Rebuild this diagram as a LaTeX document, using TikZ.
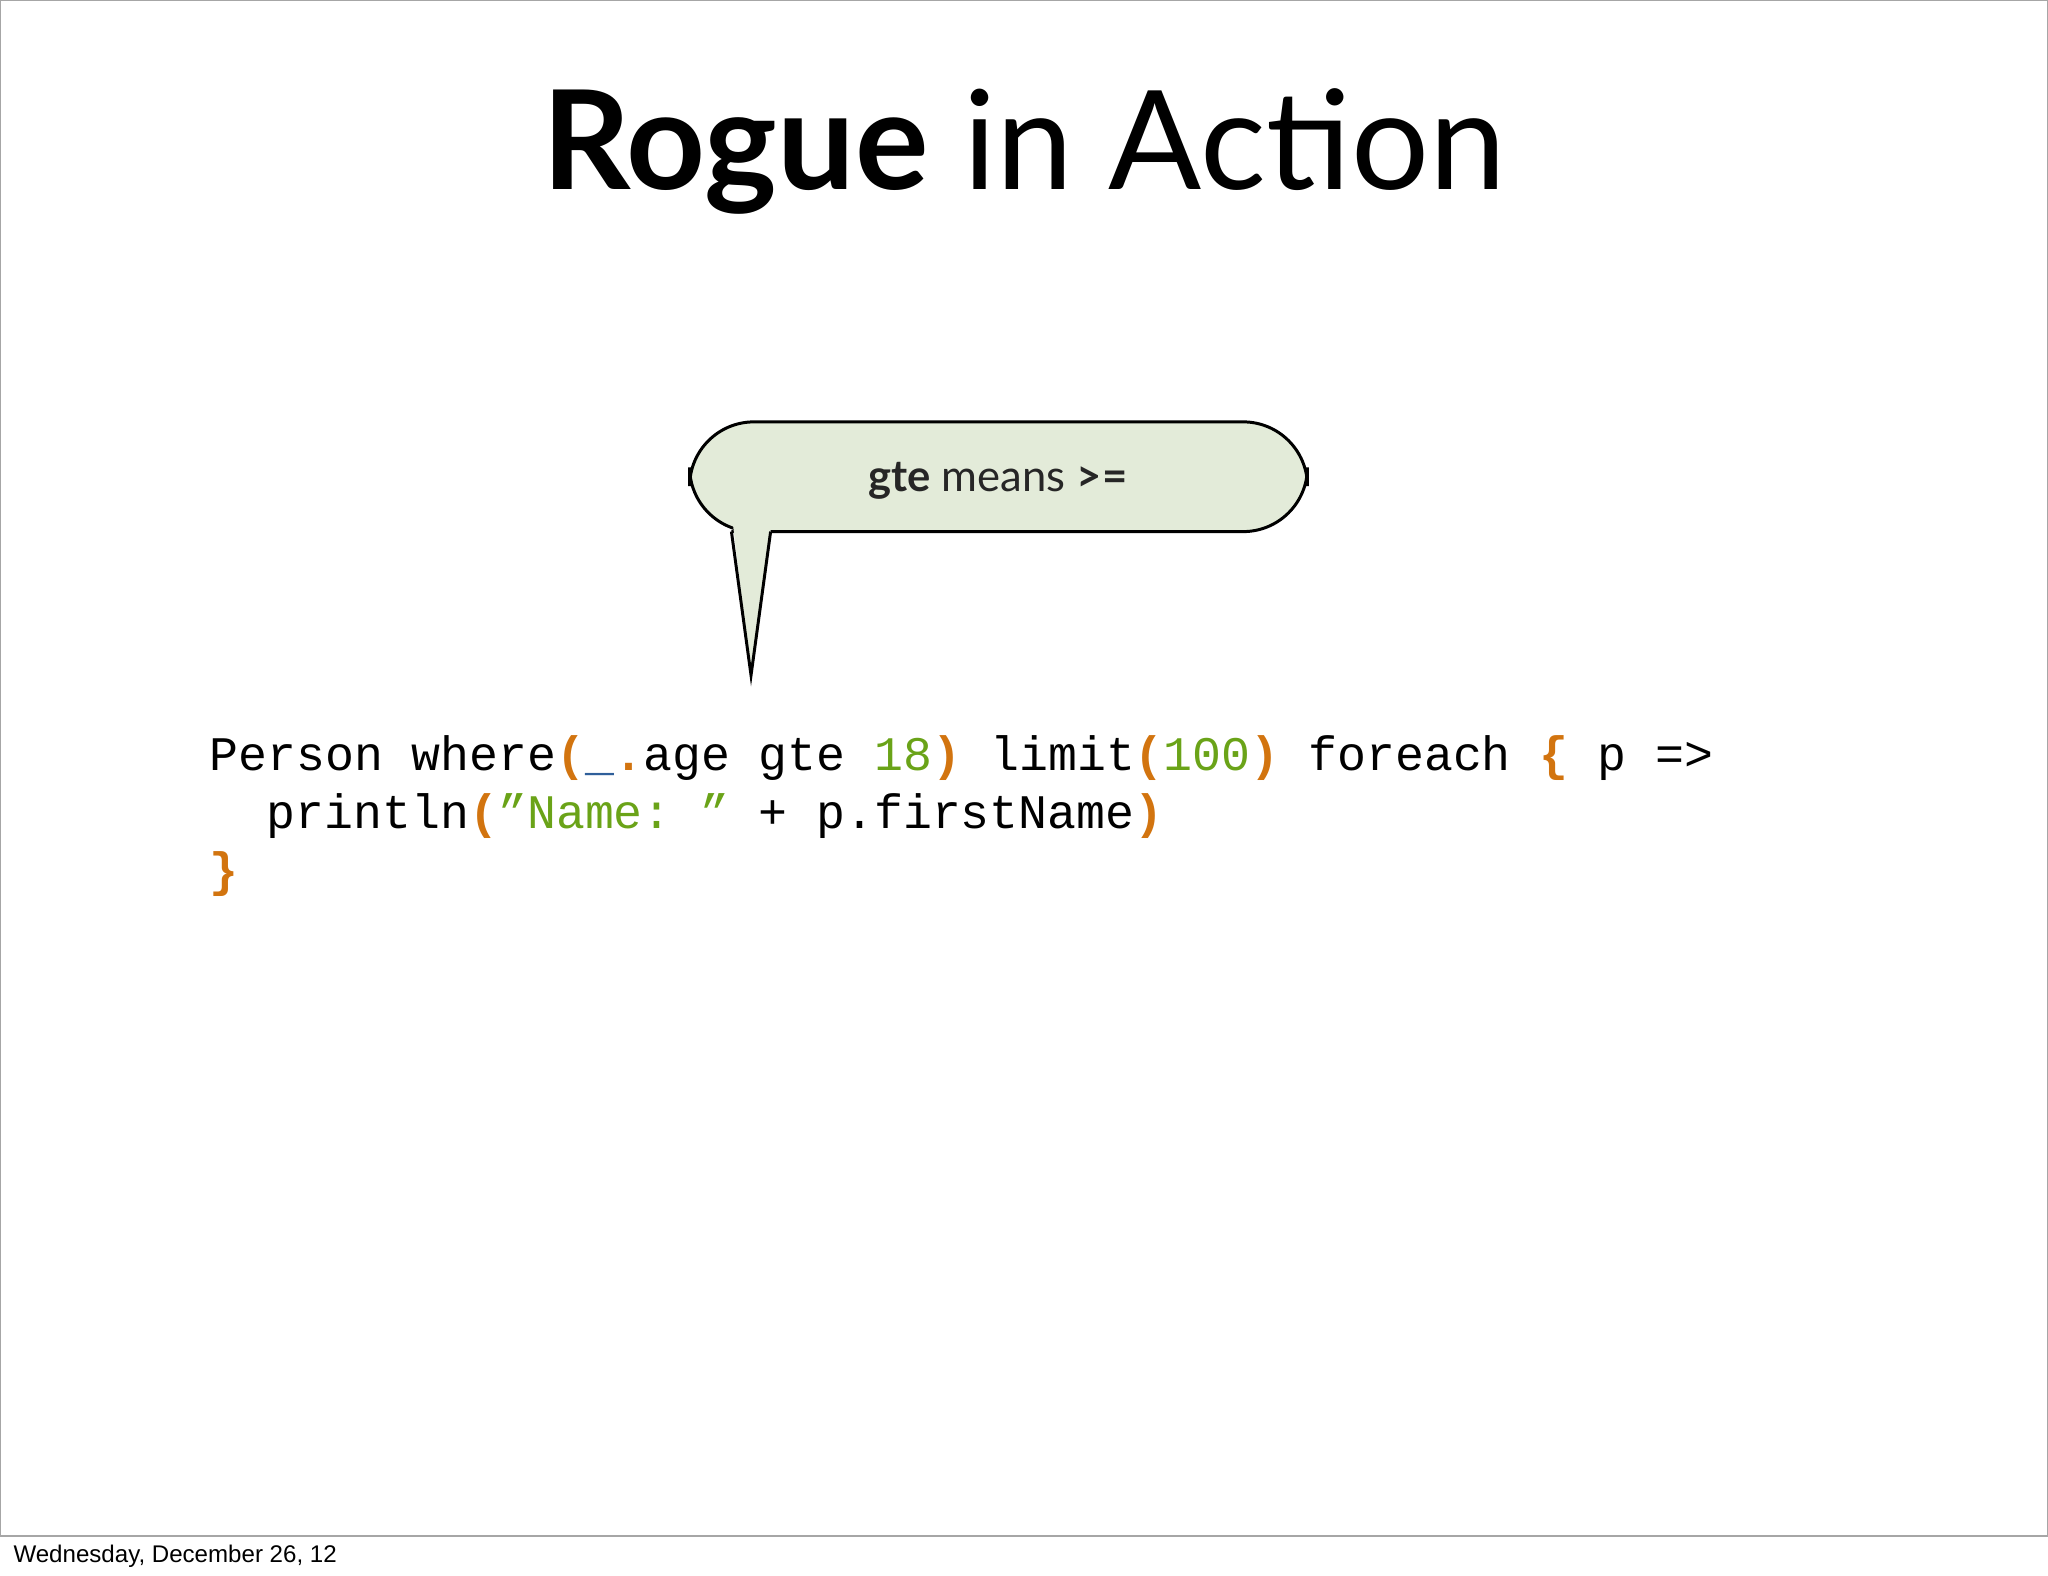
\documentclass[tikz,border=0pt]{standalone}
\usepackage{fontspec}
\setmainfont{Lato}
\setmonofont{Liberation Mono}
\newfontfamily\footfont{Liberation Sans}
\definecolor{bubble}{HTML}{E3EBD9}
\definecolor{codeor}{HTML}{D2740F}
\definecolor{codegr}{HTML}{6AA318}
\definecolor{codebl}{HTML}{2F5F9A}
\newcommand{\OR}[1]{\textcolor{codeor}{\textbf{#1}}}
\newcommand{\GR}[1]{\textcolor{codegr}{#1}}
\tikzset{code/.style={anchor=base west,inner sep=0pt,font=\fontsize{21}{25}\selectfont\ttfamily}}
\begin{document}
\begin{tikzpicture}[x=0.02cm,y=-0.02cm]
\useasboundingbox (0,0) rectangle (1568,1206);
\draw[gray!70,line width=0.6pt] (0.5,0.5) rectangle (1567.5,1176);
\node[anchor=base,inner sep=0pt,font=\fontsize{60}{70}\selectfont] (title) at (784,145) {\textbf{Rogue} in Action};
\draw[line width=1.3pt,fill=bubble,rounded corners=28pt]
  (560,407) -- (528,407) -- (528,323) -- (1001,323) -- (1001,407) -- (590,407);
\fill[bubble] (561,400) -- (575,517) -- (590,400) -- cycle;
\draw[line width=1.3pt,line join=miter] (560,407) -- (575,517) -- (590,407);
\coordinate (tip) at (575,517);
\node[inner sep=0pt,font=\fontsize{19}{23}\selectfont,text=black!85] (bub) at (764,368) {\textbf{gte} means \textbf{>=}};
\node[code] (l1) at (160,590) {Person where\OR{(}\textcolor{codebl}{\textbf{\_}}\OR{.}age gte \GR{18}\OR{)} limit\OR{(}\GR{100}\OR{)} foreach \OR{\{} p =>};
\node[code] (l2) at (204,634) {println\OR{(}\GR{”Name: ”} + p.firstName\OR{)}};
\node[code] (l3) at (160,679) {\OR{\}}};
\node[anchor=base west,inner sep=0pt,font=\footfont\fontsize{10.5}{12}\selectfont] (foot) at (10,1196) {Wednesday, December 26, 12};
\end{tikzpicture}
\end{document}
